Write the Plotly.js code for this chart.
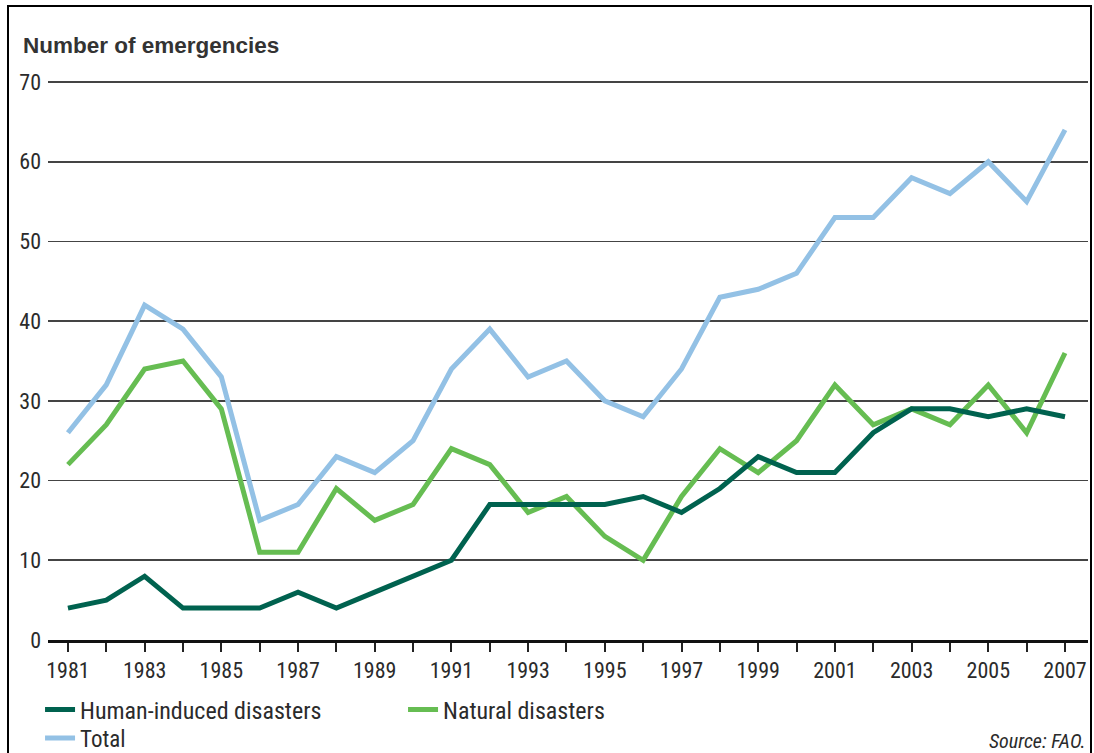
<!DOCTYPE html>
<html><head><meta charset="utf-8">
<script src="https://cdn.plot.ly/plotly-3.0.1.min.js"></script>
<style>
html,body{margin:0;padding:0;background:#fff;}
#wrap{position:relative;width:1094px;height:753px;overflow:hidden;}
#chart{width:1094px;height:753px;}
#frame{position:absolute;left:7px;top:5px;width:1081px;height:760px;border:2px solid #000;pointer-events:none;}
</style></head>
<body><div id="wrap"><div id="chart"></div><div id="frame"></div></div>
<script>
const years = [1981,1982,1983,1984,1985,1986,1987,1988,1989,1990,1991,1992,1993,1994,1995,1996,1997,1998,1999,2000,2001,2002,2003,2004,2005,2006,2007];
const humanInduced = [4,5,8,4,4,4,6,4,6,8,10,17,17,17,17,18,16,19,23,21,21,26,29,29,28,29,28];
const naturalDisasters = [22,27,34,35,29,11,11,19,15,17,24,22,16,18,13,10,18,24,21,25,32,27,29,27,32,26,36];
const total = [26,32,42,39,33,15,17,23,21,25,34,39,33,35,30,28,34,43,44,46,53,53,58,56,60,55,64];
const xTickLabels = years.map(y => (y % 2 === 1 ? String(y) : ''));
const yTicks = [0,10,20,30,40,50,60,70];

const font = "'Liberation Sans Narrow','Roboto Condensed',Roboto,sans-serif";
const txt = '#2b2b2b';

const traces = [
  {x: years, y: total, name: 'Total', mode: 'lines', line: {color: '#93c1e5', width: 5}, legend: 'legend2'},
  {x: years, y: naturalDisasters, name: 'Natural disasters', mode: 'lines', line: {color: '#66bd52', width: 5}, legend: 'legend'},
  {x: years, y: humanInduced, name: 'Human-induced disasters', mode: 'lines', line: {color: '#00624f', width: 5}, legend: 'legend'}
];

const layout = {
  width: 1094, height: 753,
  margin: {l: 48, r: 6, t: 80, b: 113, autoexpand: false},
  paper_bgcolor: '#fff', plot_bgcolor: '#fff',
  font: {family: font, size: 20, color: txt},
  showlegend: true,
  xaxis: {
    range: [1980.48, 2007.6], tickmode: 'array', tickvals: years, ticktext: xTickLabels,
    ticks: 'outside', ticklen: 9, tickwidth: 2, tickcolor: '#222',
    showline: true, linecolor: '#111', linewidth: 3,
    showgrid: false, zeroline: false, fixedrange: true,
    tickfont: {family: font, size: 22, color: txt}
  },
  yaxis: {
    range: [0, 70.25], tickmode: 'array', tickvals: yTicks,
    showgrid: true, gridcolor: '#444', gridwidth: 1.6,
    zeroline: false, showline: false, ticks: '', ticklabelstandoff: 6,
    tickfont: {family: font, size: 22, color: txt}, fixedrange: true
  },
  legend: {
    orientation: 'h', xref: 'container', yref: 'container',
    x: 0.0366, xanchor: 'left', y: 0.0571, yanchor: 'middle',
    traceorder: 'reversed', entrywidth: 318,
    font: {family: font, size: 24, color: txt}, bgcolor: 'rgba(0,0,0,0)'
  },
  legend2: {
    orientation: 'h', xref: 'container', yref: 'container',
    x: 0.0366, xanchor: 'left', y: 0.0199, yanchor: 'middle',
    font: {family: font, size: 23, color: txt}, bgcolor: 'rgba(0,0,0,0)'
  },
  annotations: [
    {text: '<b>Number of emergencies</b>', xref: 'paper', yref: 'paper', x: -0.026, y: 1.061,
     xanchor: 'left', yanchor: 'middle', showarrow: false,
     font: {family: "'Liberation Sans',Arial,sans-serif", size: 22.5, color: '#333'}},
    {text: '<i>Source: FAO.</i>', xref: 'paper', yref: 'paper', x: 1.0, y: -0.181,
     xanchor: 'right', yanchor: 'middle', showarrow: false, font: {family: font, size: 20, color: txt}}
  ]
};

Plotly.newPlot('chart', traces, layout, {displayModeBar: false, staticPlot: true});
</script></body></html>
